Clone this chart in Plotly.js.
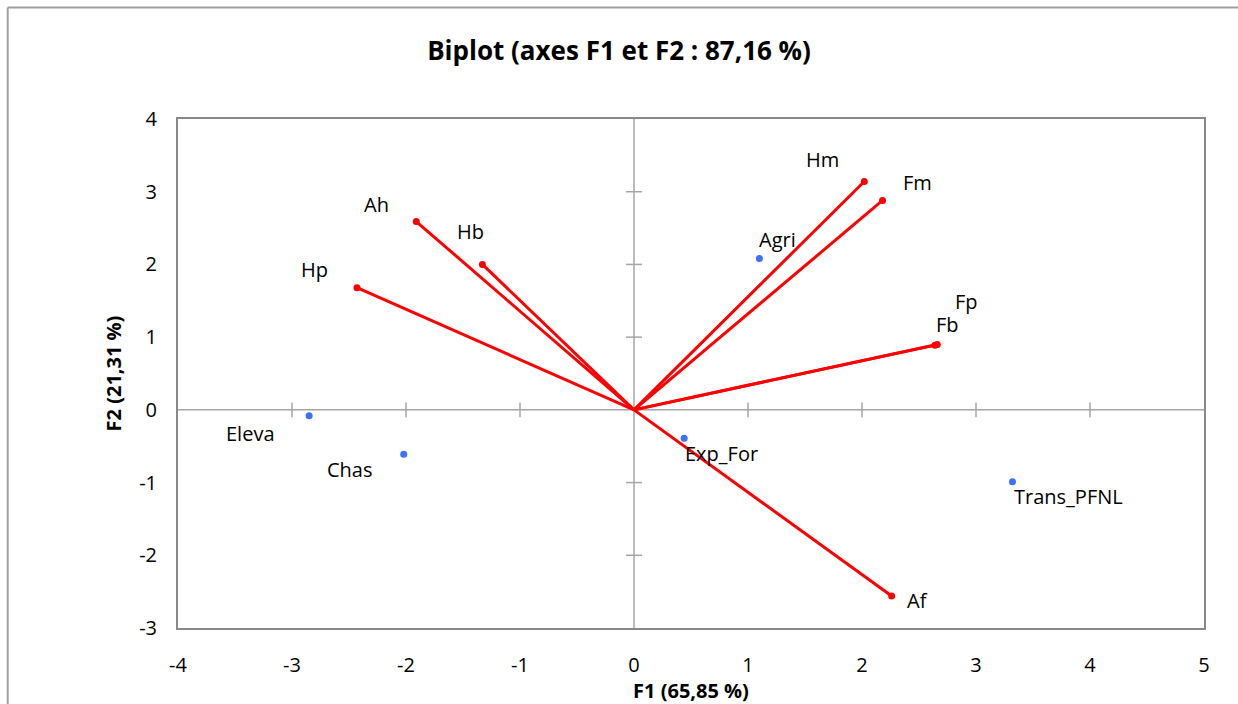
<!DOCTYPE html>
<html>
<head>
<meta charset="utf-8">
<script src="https://cdn.plot.ly/plotly-3.0.1.min.js"></script>
<style>html,body{margin:0;padding:0;background:#fff;}#chart{width:1238px;height:704px;}</style>
</head>
<body>
<div id="chart"></div>
<script>
// Variables (red vectors)
const varNames = ["Hm", "Fm", "Ah", "Hb", "Hp", "Fb", "Fp", "Af"];
const varF1 = [2.02, 2.18, -1.91, -1.33, -2.43, 2.66, 2.64, 2.26];
const varF2 = [3.14, 2.88, 2.59, 2.00, 1.68, 0.90, 0.89, -2.56];
// Observations (blue points)
const obsNames = ["Agri", "Eleva", "Chas", "Exp_For", "Trans_PFNL"];
const obsF1 = [1.10, -2.85, -2.02, 0.44, 3.32];
const obsF2 = [2.08, -0.08, -0.61, -0.39, -0.99];
// Tick values
const xTicks = [-4, -3, -2, -1, 0, 1, 2, 3, 4, 5];
const yTicks = [-3, -2, -1, 0, 1, 2, 3, 4];

// label pixel offsets (style)
const varShift = [[-42,22],[35,18],[-40,17],[-12,33],[-42,18],[10,20],[32,44],[26,-4]];
const obsShift = [[18,19],[-59,-18],[-54,-15],[37,-15],[56,-15]];

const FONT = "'Open Sans', 'Noto Sans', sans-serif";
const RED = "#FF0000", BLUE = "#3F6FFF", ZERO = "#A6A6A6", BOX = "#898989";

const lx = [], ly = [];
varF1.forEach((v, i) => { lx.push(0, v, null); ly.push(0, varF2[i], null); });

const traces = [
  {x: lx, y: ly, mode: "lines", type: "scatter", line: {color: RED, width: 3}, hoverinfo: "skip", showlegend: false},
  {x: varF1, y: varF2, text: varNames, mode: "markers", type: "scatter", marker: {color: RED, size: 7}, showlegend: false},
  {x: obsF1, y: obsF2, text: obsNames, mode: "markers", type: "scatter", marker: {color: BLUE, size: 7}, showlegend: false}
];

const annotations = [];
varNames.forEach((n, i) => annotations.push({x: varF1[i], y: varF2[i], text: n, showarrow: false,
  xshift: varShift[i][0], yshift: varShift[i][1], font: {family: FONT, size: 20, color: "#000"}}));
obsNames.forEach((n, i) => annotations.push({x: obsF1[i], y: obsF2[i], text: n, showarrow: false,
  xshift: obsShift[i][0], yshift: obsShift[i][1], font: {family: FONT, size: 20, color: "#000"}}));

const shapes = [
  // zero lines
  {type: "line", xref: "x", yref: "y", x0: 0, x1: 0, y0: -3, y1: 4, line: {color: ZERO, width: 1.5}, layer: "below"},
  {type: "line", xref: "x", yref: "y", x0: -4, x1: 5, y0: 0, y1: 0, line: {color: ZERO, width: 1.5}, layer: "below"},
  // outer chart border (top and left)
  {type: "line", xref: "paper", yref: "paper", x0: -0.166, x1: 1.04, y0: 1.219, y1: 1.219, line: {color: "#A0A0A0", width: 2}},
  {type: "line", xref: "paper", yref: "paper", x0: -0.166, x1: -0.166, y0: 1.219, y1: -0.2, line: {color: "#A0A0A0", width: 2}}
];
xTicks.forEach(t => { if (t !== -4 && t !== 5 && t !== 0) shapes.push({type: "line", xref: "x", yref: "y", x0: t, x1: t, y0: -0.1, y1: 0.1, line: {color: ZERO, width: 1.5}, layer: "below"}); });
yTicks.forEach(t => { if (t !== -3 && t !== 4 && t !== 0) shapes.push({type: "line", xref: "x", yref: "y", x0: -0.07, x1: 0.07, y0: t, y1: t, line: {color: ZERO, width: 1.5}, layer: "below"}); });

const layout = {
  width: 1238, height: 704,
  margin: {l: 178, r: 34, t: 119, b: 76},
  paper_bgcolor: "#fff", plot_bgcolor: "#fff",
  title: {text: "<b>Biplot (axes F1 et F2 : 87,16 %)</b>", font: {family: FONT, size: 26, color: "#000"}, x: 0.5, xanchor: "center", y: 0.928, yanchor: "middle"},
  xaxis: {range: [-4, 5], tickvals: xTicks, ticktext: xTicks.map(String), showgrid: false, zeroline: false,
    showline: true, mirror: true, linecolor: BOX, linewidth: 2, ticks: "outside", ticklen: 18, tickcolor: "rgba(0,0,0,0)",
    tickfont: {family: FONT, size: 20, color: "#000"},
    title: {text: "<b>F1 (65,85 %)</b>", font: {family: FONT, size: 20, color: "#000"}, standoff: 2}},
  yaxis: {range: [-3, 4], tickvals: yTicks, ticktext: yTicks.map(String), showgrid: false, zeroline: false,
    showline: true, mirror: true, linecolor: BOX, linewidth: 2, ticks: "outside", ticklen: 15, tickcolor: "rgba(0,0,0,0)",
    tickfont: {family: FONT, size: 20, color: "#000"},
    title: {text: "<b>F2 (21,31 %)</b>", font: {family: FONT, size: 20, color: "#000"}, standoff: 12}},
  annotations: annotations, shapes: shapes, hovermode: "closest"
};

Plotly.newPlot("chart", traces, layout, {displayModeBar: false, responsive: false});
</script>
</body>
</html>
